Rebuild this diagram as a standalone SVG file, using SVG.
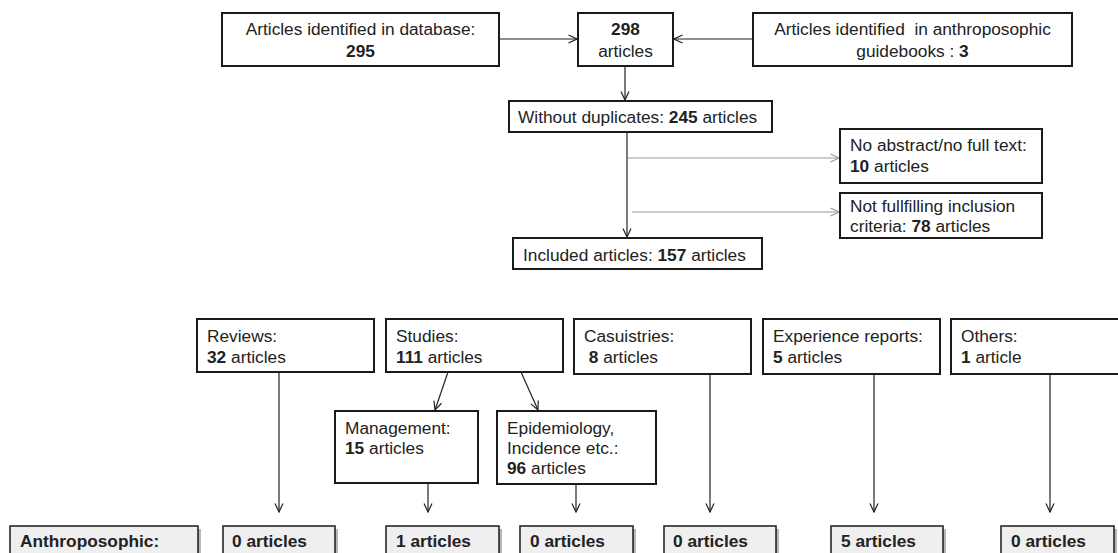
<svg xmlns="http://www.w3.org/2000/svg" width="1118" height="553" viewBox="0 0 1118 553">
<defs>
<marker id="ah" viewBox="0 0 10 10" refX="9.5" refY="5" markerWidth="10" markerHeight="10" markerUnits="userSpaceOnUse" orient="auto"><path d="M1,1 L9.5,5 L1,9" fill="none" stroke="#222" stroke-width="1.2"/></marker>
<marker id="ahg" viewBox="0 0 10 10" refX="9.5" refY="5" markerWidth="10" markerHeight="10" markerUnits="userSpaceOnUse" orient="auto"><path d="M1,1 L9.5,5 L1,9" fill="none" stroke="#999" stroke-width="1.2"/></marker>
</defs>
<style>
text{font-family:"Liberation Sans",Arial,sans-serif;font-size:17.3px;fill:#222;white-space:pre}
.b{font-weight:bold}
.c{text-anchor:middle}
.box{fill:#fff;stroke:#1a1a1a;stroke-width:2}
.gbox{fill:#efefef;stroke:#1a1a1a;stroke-width:1.5}
.sh{fill:#b8b8b8}
.ln{fill:none;stroke:#222;stroke-width:1.2;marker-end:url(#ah)}
.gl{fill:none;stroke:#999;stroke-width:1.2;marker-end:url(#ahg)}
</style>
<rect width="1118" height="553" fill="#fff"/>
<g id="connectors">
<line class="ln" x1="499" y1="39" x2="577" y2="39"/>
<line class="ln" x1="753" y1="39" x2="674" y2="39"/>
<line class="ln" x1="625" y1="66" x2="625" y2="100"/>
<line class="ln" x1="627" y1="132" x2="627" y2="237"/>
<line class="gl" x1="628" y1="158" x2="839" y2="158"/>
<line class="gl" x1="632" y1="212" x2="839" y2="212"/>
<line class="ln" x1="279" y1="372" x2="279" y2="512"/>
<line class="ln" x1="448" y1="372" x2="435" y2="410"/>
<line class="ln" x1="521" y1="372" x2="538" y2="410"/>
<line class="ln" x1="428" y1="483" x2="428" y2="512"/>
<line class="ln" x1="576" y1="484" x2="576" y2="512"/>
<line class="ln" x1="710" y1="374" x2="710" y2="512"/>
<line class="ln" x1="874" y1="374" x2="874" y2="512"/>
<line class="ln" x1="1050" y1="374" x2="1050" y2="512"/>
</g>
<g id="n-database">
<rect class="box" x="222" y="13" width="277" height="53"/>
<text class="c" x="360.5" y="35">Articles identified in database:</text>
<text class="c b" x="360.5" y="57">295</text>
</g>
<g id="n-298">
<rect class="box" x="578" y="13" width="95" height="53"/>
<text class="c b" x="625.5" y="35">298</text>
<text class="c" x="625.5" y="57">articles</text>
</g>
<g id="n-guidebooks">
<rect class="box" x="753" y="13" width="319" height="53"/>
<text class="c" x="912.5" y="35">Articles identified  in anthroposophic</text>
<text class="c" x="912.5" y="57">guidebooks : <tspan class="b">3</tspan></text>
</g>
<g id="n-noduplicates">
<rect class="box" x="509" y="101" width="263" height="31"/>
<text x="518" y="123">Without duplicates: <tspan class="b">245</tspan> articles</text>
</g>
<g id="n-noabstract">
<rect class="box" x="840" y="129" width="202" height="54"/>
<text x="850" y="151">No abstract/no full text:</text>
<text x="850" y="172"><tspan class="b">10</tspan> articles</text>
</g>
<g id="n-notfulfilling">
<rect class="box" x="840" y="193" width="202" height="45"/>
<text x="850" y="212">Not fullfilling inclusion</text>
<text x="850" y="232">criteria: <tspan class="b">78</tspan> articles</text>
</g>
<g id="n-included">
<rect class="box" x="513" y="238" width="249" height="31"/>
<text x="523" y="261">Included articles: <tspan class="b">157</tspan> articles</text>
</g>
<g id="n-reviews">
<rect class="box" x="197" y="319" width="177" height="53"/>
<text x="207" y="342">Reviews:</text>
<text x="207" y="363"><tspan class="b">32</tspan> articles</text>
</g>
<g id="n-studies">
<rect class="box" x="386" y="319" width="177" height="53"/>
<text x="396" y="342">Studies:</text>
<text x="396" y="363"><tspan class="b">111</tspan> articles</text>
</g>
<g id="n-casuistries">
<rect class="box" x="574" y="319" width="177" height="55"/>
<text x="584" y="342">Casuistries:</text>
<text x="584" y="363"> <tspan class="b">8</tspan> articles</text>
</g>
<g id="n-experience">
<rect class="box" x="763" y="319" width="177" height="55"/>
<text x="773" y="342">Experience reports:</text>
<text x="773" y="363"><tspan class="b">5</tspan> articles</text>
</g>
<g id="n-others">
<rect class="box" x="951" y="319" width="185" height="55"/>
<text x="961" y="342">Others:</text>
<text x="961" y="363"><tspan class="b">1</tspan> article</text>
</g>
<g id="n-management">
<rect class="box" x="335" y="411" width="143" height="72"/>
<text x="345" y="434">Management:</text>
<text x="345" y="454"><tspan class="b">15</tspan> articles</text>
</g>
<g id="n-epidemiology">
<rect class="box" x="497" y="411" width="159" height="73"/>
<text x="507" y="434">Epidemiology,</text>
<text x="507" y="454">Incidence etc.:</text>
<text x="507" y="474"><tspan class="b">96</tspan> articles</text>
</g>
<g id="n-anthro">
<rect class="sh" x="13" y="529" width="188" height="40"/>
<rect class="gbox" x="10" y="526" width="188" height="40"/>
<text class="b" x="20" y="547">Anthroposophic:</text>
</g>
<g id="n-r-reviews">
<rect class="sh" x="226" y="529" width="112" height="40"/>
<rect class="gbox" x="223" y="526" width="112" height="40"/>
<text class="b" x="232" y="547">0 articles</text>
</g>
<g id="n-r-management">
<rect class="sh" x="389" y="529" width="113" height="40"/>
<rect class="gbox" x="386" y="526" width="113" height="40"/>
<text class="b" x="396" y="547">1 articles</text>
</g>
<g id="n-r-epidemiology">
<rect class="sh" x="523" y="529" width="113" height="40"/>
<rect class="gbox" x="520" y="526" width="113" height="40"/>
<text class="b" x="530" y="547">0 articles</text>
</g>
<g id="n-r-casuistries">
<rect class="sh" x="667" y="529" width="112" height="40"/>
<rect class="gbox" x="664" y="526" width="112" height="40"/>
<text class="b" x="673" y="547">0 articles</text>
</g>
<g id="n-r-experience">
<rect class="sh" x="834" y="529" width="112" height="40"/>
<rect class="gbox" x="831" y="526" width="112" height="40"/>
<text class="b" x="841" y="547">5 articles</text>
</g>
<g id="n-r-others">
<rect class="sh" x="1004" y="529" width="113" height="40"/>
<rect class="gbox" x="1001" y="526" width="113" height="40"/>
<text class="b" x="1011" y="547">0 articles</text>
</g>
</svg>
